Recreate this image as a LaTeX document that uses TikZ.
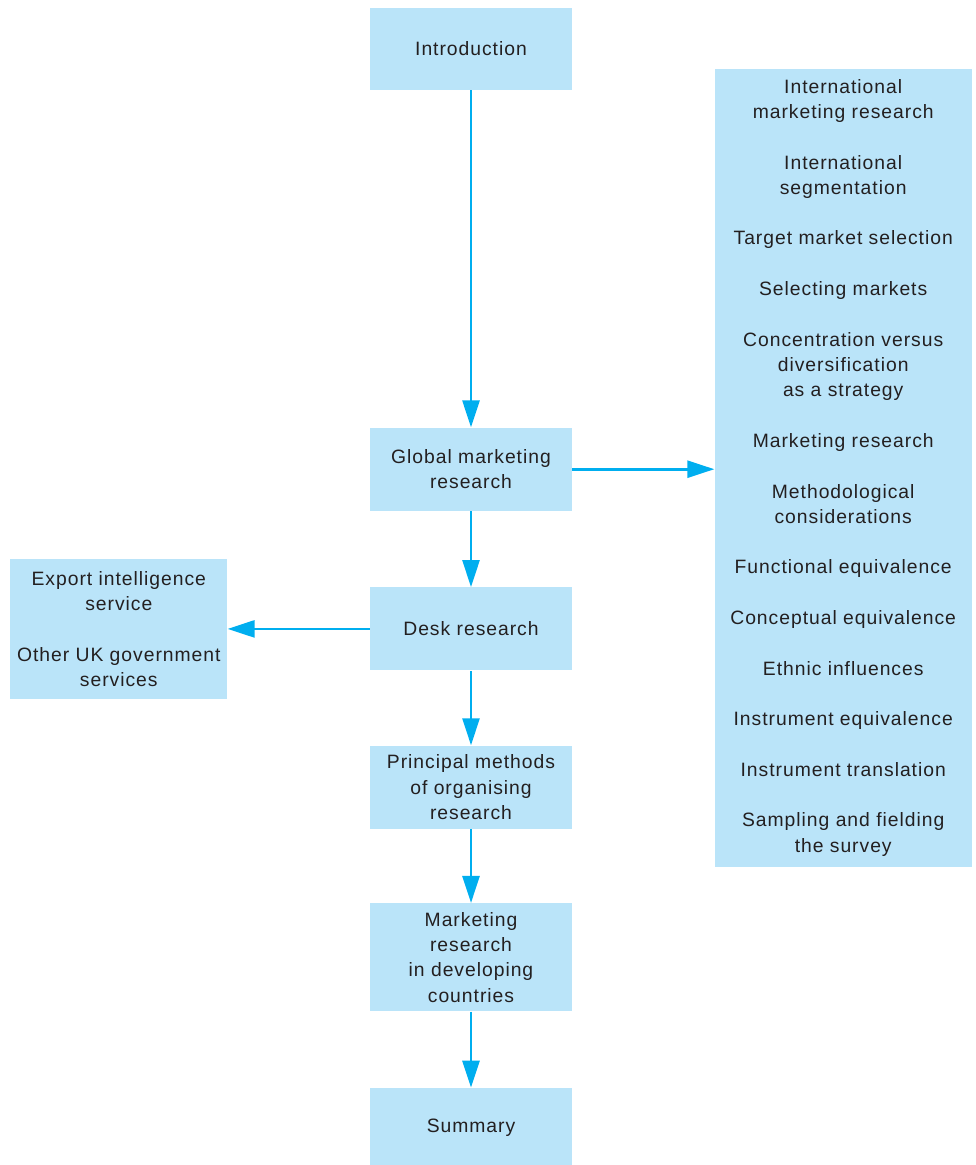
\documentclass[tikz,border=0pt]{standalone}
\usepackage{fontspec}
\setmainfont{Liberation Sans}[LetterSpace=5]
\usetikzlibrary{arrows.meta, positioning}
\definecolor{cBox}{RGB}{186,228,249}
\definecolor{cLine}{RGB}{0,174,239}
\definecolor{cText}{RGB}{35,31,32}
\tikzset{
	box/.style ={rectangle, fill=cBox, minimum width=4.04cm, minimum height=1.66cm, align=center, text=cText, inner sep=2pt},
	flow/.style={-{Triangle[length=5.4mm, width=3.4mm]}, line width=1.5pt, cLine},
}
\begin{document}
\begin{tikzpicture}[font=\fontsize{11}{14.4}\selectfont, node distance=1.5cm]
	\useasboundingbox (0,0) rectangle (19.52,-23.3);
	% main column
	\node[box, minimum height=1.64cm] (intro) at (9.42,-0.98) {Introduction};
	\node[box, below=6.74cm of intro] (gmr) {Global marketing\\ research};
	\node[box, below=1.52cm of gmr] (desk) {Desk research};
	\node[box, below=1.49cm of desk] (pmo) {Principal methods\\ of organising\\ research};
	\node[box, below=1.48cm of pmo, minimum height=2.16cm] (mrdc) {Marketing\\ research\\ in developing\\ countries};
	\node[box, below=1.52cm of mrdc, minimum height=1.58cm] (summ) {Summary};
	% side boxes
	\node[box, left=2.84cm of desk, minimum width=4.34cm, minimum height=2.8cm] (eis) {Export intelligence\\ service\\[\baselineskip] Other UK government\\ services};
	\node[box, right=2.84cm of gmr, yshift=0.03cm, minimum width=5.14cm, minimum height=15.96cm] (topics) {International\\ marketing research\\[\baselineskip]
		International\\ segmentation\\[\baselineskip]
		Target market selection\\[\baselineskip]
		Selecting markets\\[\baselineskip]
		Concentration versus\\ diversification\\ as a strategy\\[\baselineskip]
		Marketing research\\[\baselineskip]
		Methodological\\ considerations\\[\baselineskip]
		Functional equivalence\\[\baselineskip]
		Conceptual equivalence\\[\baselineskip]
		Ethnic influences\\[\baselineskip]
		Instrument equivalence\\[\baselineskip]
		Instrument translation\\[\baselineskip]
		Sampling and fielding\\ the survey};
	% connectors
	\draw[flow] (intro) -- (gmr);
	\draw[flow] (gmr) -- (desk);
	\draw[flow] (desk) -- (pmo);
	\draw[flow] (pmo) -- (mrdc);
	\draw[flow] (mrdc) -- (summ);
	\draw[flow] (gmr.east) -- (gmr.east -| topics.west);
	\draw[flow] (desk) -- (eis);
\end{tikzpicture}
\end{document}
